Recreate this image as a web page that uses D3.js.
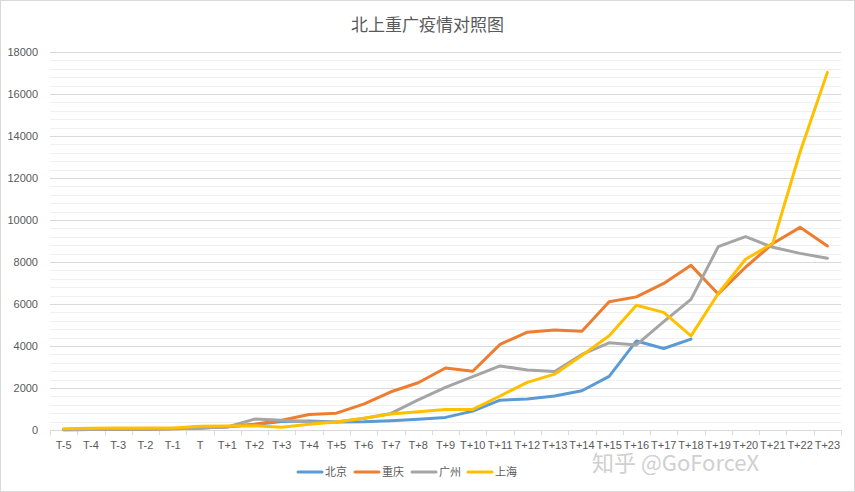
<!DOCTYPE html>
<html>
<head>
<meta charset="utf-8">
<script src="https://cdn.jsdelivr.net/npm/d3@7"></script>
<style>
  body { margin: 0; background: #fff; }
  svg { display: block; font-family: "Noto Sans CJK SC", "Noto Sans", sans-serif; }
</style>
</head>
<body>
<div id="chart"></div>
<script>
// categories
const days = ["T-5","T-4","T-3","T-2","T-1","T",
  "T+1","T+2","T+3","T+4","T+5","T+6","T+7","T+8","T+9","T+10","T+11","T+12",
  "T+13","T+14","T+15","T+16","T+17","T+18","T+19","T+20","T+21","T+22","T+23"]

// series values
const beijing = [20,30,40,50,70,100,150,260,400,430,380,390,440,510,600,900,1420,1480,
  1620,1870,2550,4240,3880,4330]
const chongqing = [10,20,30,40,60,90,150,270,460,740,800,1230,1820,2250,2950,2800,4080,4660,
  4760,4700,6110,6340,6980,7840,6480,7750,8880,9650,8760]
const guangzhou = [10,20,30,40,60,100,140,520,470,390,380,550,790,1430,2030,2540,3050,2860,
  2790,3600,4150,4050,5160,6220,8730,9210,8700,8410,8180]
const shanghai = [60,80,90,90,100,180,190,200,130,270,380,560,760,870,980,980,1620,2270,
  2660,3550,4490,5940,5600,4480,6500,8130,8890,13240,17030]

const seriesNames = ["北京","重庆","广州","上海"]
const seriesColors = ["#5b9bd5","#ed7d31","#a5a5a5","#ffc000"]
const yTicks = [0,2000,4000,6000,8000,10000,12000,14000,16000,18000]

const width = 855
const height = 492
const margin = {left: 50, top: 52, right: 14, bottom: 62}
const chartWidth = width - margin.left - margin.right
const chartHeight = height - margin.top - margin.bottom

const svg = d3.select('#chart')
  .append('svg')
    .attr('width', width)
    .attr('height', height)

// outer border of the chart
svg.append('rect')
  .attr('x', 0.5).attr('y', 0.5)
  .attr('width', width - 1).attr('height', height - 1)
  .attr('fill', '#fff')
  .attr('stroke', '#d9d9d9')

svg.append('text')
  .attr('x', width / 2)
  .attr('y', 31)
  .attr('text-anchor', 'middle')
  .style('font-size', '17px')
  .style('fill', '#595959')
  .text('北上重广疫情对照图')

const g = svg.append('g')
  .attr('transform', `translate(${margin.left}, ${margin.top})`)

const xScale = d3.scaleBand()
  .domain(days)
  .range([0, chartWidth])

const yScale = d3.scaleLinear()
  .domain([0, 18000])
  .range([chartHeight, 0])

// minor grid
g.append('g')
  .selectAll('line')
  .data(d3.range(400, 18000, 400).filter(v => v % 2000 !== 0))
  .join('line')
    .attr('x1', 0).attr('x2', chartWidth)
    .attr('y1', d => Math.round(yScale(d)) + 0.5)
    .attr('y2', d => Math.round(yScale(d)) + 0.5)
    .attr('stroke', '#f0f0f0')

// major grid + labels
const yAxis = g.append('g')
  .call(d3.axisLeft(yScale).tickValues(yTicks).tickFormat(d3.format('d'))
    .tickSize(-chartWidth).tickPadding(12))
yAxis.select('.domain').remove()
yAxis.selectAll('.tick line').attr('stroke', '#d9d9d9')
yAxis.selectAll('.tick text')
  .style('font-size', '11px')
  .style('fill', '#595959')
  .style('font-family', '"Liberation Sans", Arial, sans-serif')

// x axis with tick marks at category boundaries
const xAxis = g.append('g')
  .attr('transform', `translate(0, ${chartHeight})`)
  .call(d3.axisBottom(xScale).tickSize(0).tickPadding(11))
xAxis.select('.domain').attr('stroke', '#d9d9d9')
xAxis.selectAll('.tick text')
  .style('font-size', '11px')
  .style('fill', '#595959')
  .style('font-family', '"Liberation Sans", Arial, sans-serif')
xAxis.selectAll('.boundary')
  .data(d3.range(days.length + 1))
  .join('line')
    .attr('class', 'boundary')
    .attr('x1', i => Math.round(i * xScale.step()) + 0.5)
    .attr('x2', i => Math.round(i * xScale.step()) + 0.5)
    .attr('y1', 0).attr('y2', 5)
    .attr('stroke', '#d9d9d9')

const allSeries = [beijing, chongqing, guangzhou, shanghai]
const line = d3.line()
  .x((d, i) => xScale(days[i]) + xScale.bandwidth() / 2)
  .y(d => yScale(d))

g.selectAll('.series')
  .data(allSeries)
  .join('path')
    .attr('class', 'series')
    .attr('d', line)
    .attr('fill', 'none')
    .attr('stroke', (d, i) => seriesColors[i])
    .attr('stroke-width', 3)
    .attr('stroke-linejoin', 'round')
    .attr('stroke-linecap', 'round')

// legend
const legendX = [298, 355, 412, 468]
const legend = svg.append('g')
  .attr('transform', 'translate(0, 472)')
seriesNames.forEach((name, i) => {
  legend.append('line')
    .attr('x1', legendX[i]).attr('x2', legendX[i] + 24)
    .attr('y1', 0).attr('y2', 0)
    .attr('stroke', seriesColors[i])
    .attr('stroke-width', 3)
    .attr('stroke-linecap', 'round')
  legend.append('text')
    .attr('x', legendX[i] + 27)
    .attr('y', 4)
    .style('font-size', '11px')
    .style('fill', '#595959')
    .text(name)
})

// watermark (overlaps the last axis labels in the original too)
svg.append('text')
  .attr('x', 592)
  .attr('y', 471)
  .style('font-size', '22px')
  .style('fill', '#c8c8c8')
  .style('opacity', 0.85)
  .text('知乎 @GoForceX')
</script>
</body>
</html>
